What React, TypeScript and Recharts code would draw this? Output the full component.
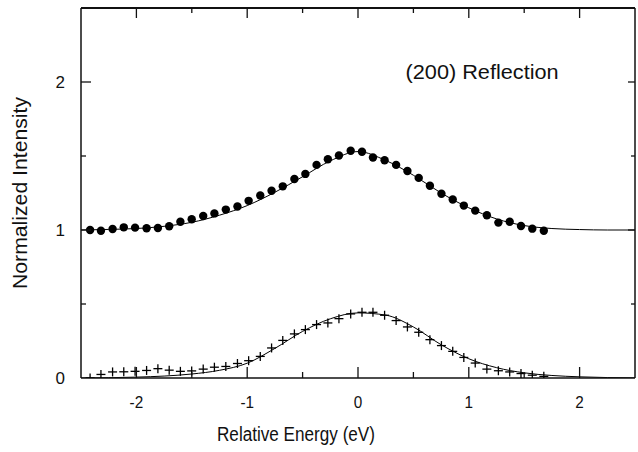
import React from 'react';
import { ComposedChart, Line, Scatter, XAxis, YAxis, ReferenceDot } from 'recharts';

// Measured energies (eV) of the data points
const pointEnergies = [
  -2.418, -2.32, -2.215, -2.114, -2.012, -1.908, -1.806, -1.704, -1.603, -1.501,
  -1.397, -1.296, -1.193, -1.088, -0.987, -0.882, -0.78, -0.679, -0.574, -0.475,
  -0.374, -0.272, -0.172, -0.066, 0.036, 0.135, 0.24, 0.344, 0.446, 0.548,
  0.649, 0.753, 0.855, 0.955, 1.058, 1.163, 1.267, 1.369, 1.471, 1.573, 1.677,
];

// Filled circles (upper data set, offset by 1)
const circleIntensity = [
  1.0, 0.995, 1.007, 1.018, 1.016, 1.012, 1.014, 1.025, 1.056, 1.073,
  1.095, 1.112, 1.138, 1.159, 1.197, 1.233, 1.265, 1.295, 1.345, 1.379,
  1.44, 1.478, 1.503, 1.535, 1.529, 1.49, 1.471, 1.44, 1.399, 1.352,
  1.299, 1.245, 1.206, 1.165, 1.131, 1.1, 1.05, 1.056, 1.027, 1.009, 0.995,
];

// Crosses (lower data set)
const crossIntensity = [
  0.0, 0.024, 0.041, 0.042, 0.045, 0.051, 0.063, 0.053, 0.045, 0.048,
  0.06, 0.073, 0.078, 0.098, 0.117, 0.146, 0.203, 0.254, 0.298, 0.327,
  0.361, 0.372, 0.401, 0.433, 0.444, 0.444, 0.424, 0.388, 0.345, 0.309,
  0.259, 0.219, 0.18, 0.139, 0.101, 0.06, 0.049, 0.041, 0.03, 0.019, 0.011,
];

// Fitted curves
const fitEnergies = [
  -2.5, -2.25, -2.0, -1.75, -1.5, -1.25, -1.0, -0.75, -0.5, -0.25, 0,
  0.25, 0.5, 0.75, 1.0, 1.25, 1.5, 1.75, 2.0, 2.25, 2.5,
];
const upperFitValues = [
  1.0, 1.004, 1.01, 1.025, 1.052, 1.1, 1.165, 1.255, 1.36, 1.467, 1.53,
  1.47, 1.37, 1.25, 1.15, 1.075, 1.03, 1.01, 1.003, 1.0, 1.0,
];
const lowerFitValues = [
  0.0, 0.002, 0.006, 0.013, 0.027, 0.052, 0.1, 0.2, 0.315, 0.4, 0.44,
  0.425, 0.345, 0.225, 0.13, 0.07, 0.035, 0.017, 0.008, 0.003, 0.001,
];

const xTicks = [-2.5, -2, -1.5, -1, -0.5, 0, 0.5, 1, 1.5, 2, 2.5];
const yTicks = [0, 0.5, 1, 1.5, 2, 2.5];
const xLabelled = [-2, -1, 0, 1, 2];
const yLabelled = [0, 1, 2];

const circles = pointEnergies.map((x, i) => ({ x, y: circleIntensity[i] }));
const crosses = pointEnergies.map((x, i) => ({ x, y: crossIntensity[i] }));
const upperFit = fitEnergies.map((x, i) => ({ x, y: upperFitValues[i] }));
const lowerFit = fitEnergies.map((x, i) => ({ x, y: lowerFitValues[i] }));

const FONT = '"Liberation Sans", Arial, Helvetica, sans-serif';
const INK = '#111';

const isEdge = (v: number, lo: number, hi: number) => Math.abs(v - lo) < 1e-9 || Math.abs(v - hi) < 1e-9;

const BottomTick = (props: any) => {
  const { x, y, payload } = props;
  const v = payload.value as number;
  if (isEdge(v, -2.5, 2.5)) return <g />;
  const major = xLabelled.includes(v);
  return (
    <g>
      <line x1={x} x2={x} y1={y} y2={y - (major ? 11 : 6)} stroke={INK} strokeWidth={1.3} />
      {major && (
        <text x={x} y={y + 30} textAnchor="middle" fontSize={17} fontFamily={FONT} fill={INK}
          transform={`translate(${x},0) scale(0.9,1) translate(${-x},0)`}>
          {String(v)}
        </text>
      )}
    </g>
  );
};

const TopTick = (props: any) => {
  const { x, y, payload } = props;
  const v = payload.value as number;
  if (isEdge(v, -2.5, 2.5)) return <g />;
  const major = xLabelled.includes(v);
  return <line x1={x} x2={x} y1={y} y2={y + (major ? 10 : 5)} stroke={INK} strokeWidth={1.3} />;
};

const LeftTick = (props: any) => {
  const { x, y, payload } = props;
  const v = payload.value as number;
  const major = yLabelled.includes(v);
  const edge = isEdge(v, 0, 2.5);
  return (
    <g>
      {!edge && (
        <line x1={x} x2={x + (major ? 10 : 5)} y1={y} y2={y} stroke={INK} strokeWidth={1.3} />
      )}
      {major && (
        <text x={x - 16} y={y + 6} textAnchor="end" fontSize={17} fontFamily={FONT} fill={INK}>
          {String(v)}
        </text>
      )}
    </g>
  );
};

const RightTick = (props: any) => {
  const { x, y, payload } = props;
  const v = payload.value as number;
  if (isEdge(v, 0, 2.5)) return <g />;
  const major = yLabelled.includes(v);
  return <line x1={x} x2={x - (major ? 7 : 4)} y1={y} y2={y} stroke={INK} strokeWidth={1.3} />;
};

const CircleShape = (props: any) => <circle cx={props.cx} cy={props.cy} r={4.2} fill="#000" />;
const PlusShape = (props: any) => {
  const { cx, cy } = props;
  return (
    <g stroke="#000" strokeWidth={1.3}>
      <line x1={cx - 4.5} x2={cx + 4.5} y1={cy} y2={cy} />
      <line x1={cx} x2={cx} y1={cy - 4.5} y2={cy + 4.5} />
    </g>
  );
};

const XTitle = (props: any) => {
  const vb = props.viewBox;
  return (
    <text x={vb.x + 215} y={vb.y + 63} textAnchor="middle" fontSize={20} fontFamily={FONT} fill={INK}
      textLength={158} lengthAdjust="spacingAndGlyphs">
      Relative Energy (eV)
    </text>
  );
};

const YTitle = (props: any) => {
  const vb = props.viewBox;
  const cx = 27;
  const cy = vb.y + vb.height / 2;
  return (
    <text x={cx} y={cy} textAnchor="middle" fontSize={20} fontFamily={FONT} fill={INK}
      transform={`rotate(-90, ${cx}, ${cy})`} textLength={192} lengthAdjust="spacingAndGlyphs">
      Normalized Intensity
    </text>
  );
};

const NoteLabel = (props: any) => {
  const vb = props.viewBox;
  return (
    <text x={vb.x} y={vb.y + 7} textAnchor="middle" fontSize={20} fontFamily={FONT} fill={INK}
      textLength={153} lengthAdjust="spacingAndGlyphs">
      (200) Reflection
    </text>
  );
};

export default function App() {
  return (
    <div style={{ position: 'absolute', left: 0, top: 0, width: 638, height: 452, background: '#fff' }}>
      <ComposedChart width={638} height={452} margin={{ top: 0, right: 0, bottom: 0, left: 0 }}>
        <XAxis
          dataKey="x"
          type="number"
          domain={[-2.5, 2.5]}
          ticks={xTicks}
          interval={0}
          height={74}
          tickSize={0}
          tickMargin={0}
          tickLine={false}
          axisLine={{ stroke: INK, strokeWidth: 1.5 }}
          tick={<BottomTick />}
          allowDataOverflow
          label={{ content: <XTitle /> }}
        />
        <XAxis
          xAxisId="top"
          orientation="top"
          dataKey="x"
          type="number"
          domain={[-2.5, 2.5]}
          ticks={xTicks}
          interval={0}
          height={8}
          tickSize={0}
          tickMargin={0}
          tickLine={false}
          axisLine={{ stroke: INK, strokeWidth: 2 }}
          tick={<TopTick />}
          allowDataOverflow
        />
        <YAxis
          type="number"
          domain={[0, 2.5]}
          ticks={yTicks}
          interval={0}
          width={81}
          tickSize={0}
          tickMargin={0}
          tickLine={false}
          axisLine={{ stroke: INK, strokeWidth: 1.5 }}
          tick={<LeftTick />}
          allowDataOverflow
          label={{ content: <YTitle /> }}
        />
        <YAxis
          yAxisId="right"
          orientation="right"
          type="number"
          domain={[0, 2.5]}
          ticks={yTicks}
          interval={0}
          width={3}
          tickSize={0}
          tickMargin={0}
          tickLine={false}
          axisLine={{ stroke: INK, strokeWidth: 1.5 }}
          tick={<RightTick />}
          allowDataOverflow
        />
        <Line
          data={upperFit}
          dataKey="y"
          type="monotone"
          stroke="#000"
          strokeWidth={1}
          dot={false}
          activeDot={false}
          isAnimationActive={false}
        />
        <Line
          data={lowerFit}
          dataKey="y"
          xAxisId="top"
          yAxisId="right"
          type="monotone"
          stroke="#000"
          strokeWidth={1}
          dot={false}
          activeDot={false}
          isAnimationActive={false}
        />
        <Scatter data={circles} dataKey="y" shape={<CircleShape />} isAnimationActive={false} />
        <Scatter data={crosses} dataKey="y" shape={<PlusShape />} isAnimationActive={false} />
        <ReferenceDot
          x={1.12}
          y={2.07}
          r={0}
          fill="none"
          stroke="none"
          label={{ content: <NoteLabel /> }}
        />
      </ComposedChart>
    </div>
  );
}
